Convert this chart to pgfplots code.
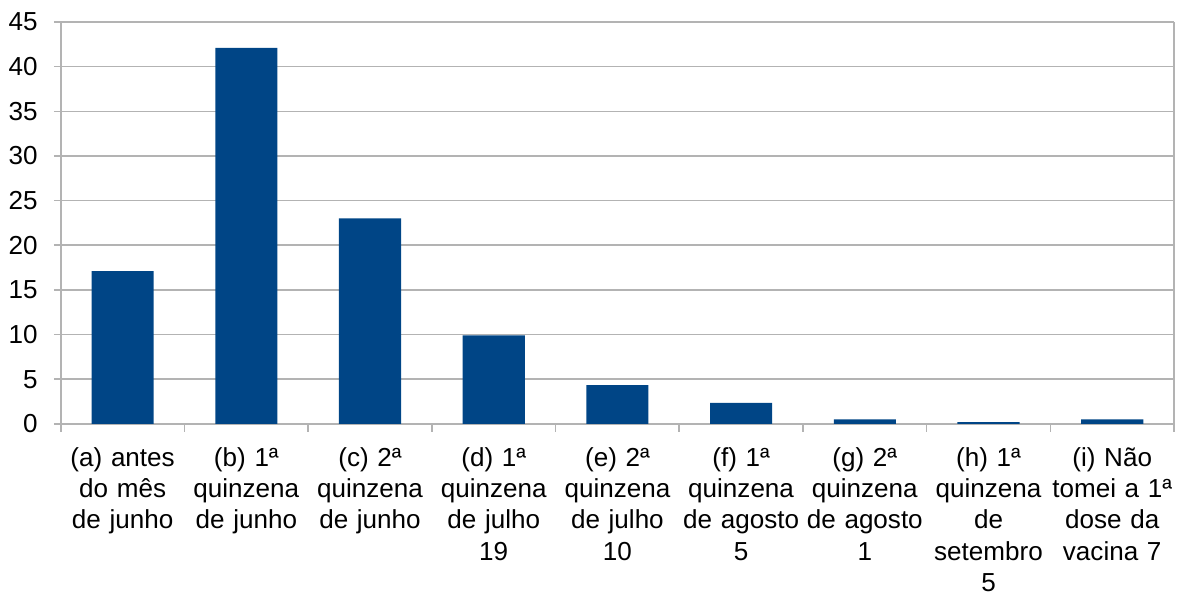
\documentclass[border=0pt]{standalone}
\usepackage{fontspec}
\setmainfont{Liberation Sans}
\usepackage{pgfplots}
\pgfplotsset{compat=1.18}
\definecolor{barblue}{HTML}{004586}
\definecolor{gridgray}{HTML}{B3B3B3}
\begin{document}
\fontsize{13}{15}\selectfont
\begin{tikzpicture}
\begin{axis}[
  scale only axis,
  width=555.5pt, height=200.5pt,
  xmin=-0.5, xmax=8.5,
  ymin=0, ymax=45,
  ytick={0,5,...,45},
  xtick={0,...,8},
  xticklabels={
    {(a) antes\\do mês\\de junho},
    {(b) 1ª\\quinzena\\de junho},
    {(c) 2ª\\quinzena\\de junho},
    {(d) 1ª\\quinzena\\de julho\\19},
    {(e) 2ª\\quinzena\\de julho\\10},
    {(f) 1ª\\quinzena\\de agosto\\5},
    {(g) 2ª\\quinzena\\de agosto\\1},
    {(h) 1ª\\quinzena\\de\\setembro\\5},
    {(i) Não\\tomei a 1ª\\dose da\\vacina 7}},
  x tick label style={align=center, text width=60pt, font=\fontsize{13}{15.5}\selectfont, yshift=-4pt},
  y tick label style={font=\fontsize{13}{15}\selectfont, xshift=-3.5pt},
  /pgf/number format/assume math mode=true,
  minor xtick={-0.5,0.5,...,8.5},
  major x tick style={draw=none},
  minor x tick style={gridgray, line width=0.8pt},
  major y tick style={gridgray, line width=0.8pt},
  tick align=outside,
  major tick length=3.5pt,
  minor tick length=4pt,
  ymajorgrids,
  major grid style={gridgray, line width=0.8pt},
  axis line style={gridgray, line width=0.8pt},
  axis x line*=bottom,
  axis y line*=left,
  clip=false,
]
\addplot[ybar, bar width=31pt, fill=barblue, draw=none] coordinates {
  (0,17.1) (1,42.1) (2,23.0) (3,9.9) (4,4.35) (5,2.35) (6,0.5) (7,0.2) (8,0.5)
};
\draw[gridgray, line width=0.8pt] (axis cs:8.5,0) -- (axis cs:8.5,45);
\path (axis cs:-0.5,45) ++(0pt,11pt);
\end{axis}
\end{tikzpicture}
\end{document}
